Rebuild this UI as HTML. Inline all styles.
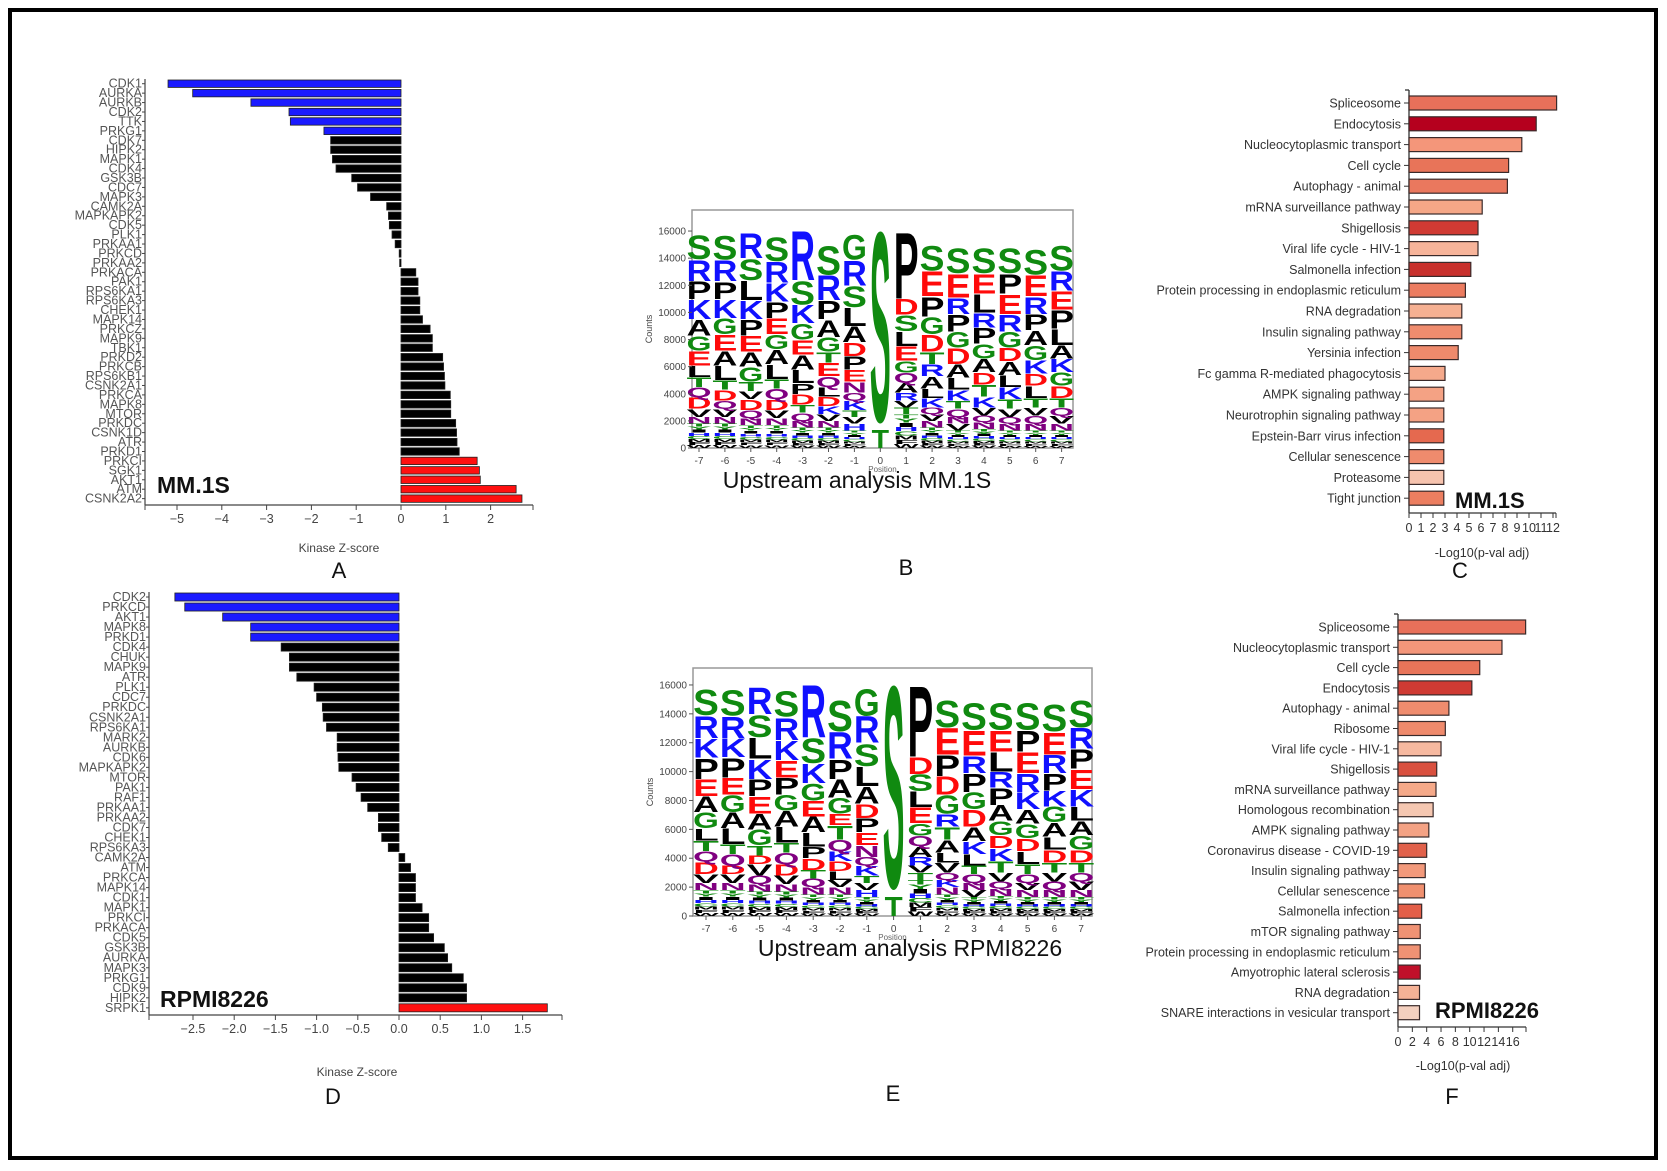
<!DOCTYPE html>
<html><head><meta charset="utf-8"><style>
html,body{margin:0;padding:0;background:#fff;}
svg{display:block;font-family:"Liberation Sans",Arial,sans-serif;}
</style></head><body>
<svg id="fig" width="1667" height="1171" viewBox="0 0 1667 1171" xmlns="http://www.w3.org/2000/svg">
<rect x="0" y="0" width="1667" height="1171" fill="#fff"/>
<rect x="10" y="10" width="1646" height="1148" fill="none" stroke="#000" stroke-width="4"/>
<g id="panels"></g>
</svg>
<script>
// ---------- DATA ----------
const kinA = ["CDK1","AURKA","AURKB","CDK2","TTK","PRKG1","CDK7","HIPK2","MAPK1","CDK4","GSK3B","CDC7","MAPK3","CAMK2A","MAPKAPK2","CDK5","PLK1","PRKAA1","PRKCD","PRKAA2","PRKACA","PAK1","RPS6KA1","RPS6KA3","CHEK1","MAPK14","PRKCZ","MAPK9","TBK1","PRKD2","PRKCB","RPS6KB1","CSNK2A1","PRKCA","MAPK8","MTOR","PRKDC","CSNK1D","ATR","PRKD1","PRKCI","SGK1","AKT1","ATM","CSNK2A2"];
const zA = [-5.2,-4.65,-3.35,-2.5,-2.47,-1.72,-1.57,-1.57,-1.53,-1.45,-1.1,-0.97,-0.68,-0.32,-0.28,-0.26,-0.2,-0.13,-0.04,-0.03,0.33,0.38,0.38,0.42,0.42,0.48,0.65,0.7,0.7,0.93,0.95,0.97,0.98,1.1,1.11,1.11,1.22,1.24,1.25,1.3,1.7,1.75,1.77,2.57,2.7];
const ticksA = [-5,-4,-3,-2,-1,0,1,2];
const kinD = ["CDK2","PRKCD","AKT1","MAPK8","PRKD1","CDK4","CHUK","MAPK9","ATR","PLK1","CDC7","PRKDC","CSNK2A1","RPS6KA1","MARK2","AURKB","CDK6","MAPKAPK2","MTOR","PAK1","RAF1","PRKAA1","PRKAA2","CDK7","CHEK1","RPS6KA3","CAMK2A","ATM","PRKCA","MAPK14","CDK1","MAPK1","PRKCI","PRKACA","CDK5","GSK3B","AURKA","MAPK3","PRKG1","CDK9","HIPK2","SRPK1"];
const zD = [-2.72,-2.6,-2.14,-1.8,-1.8,-1.43,-1.33,-1.33,-1.24,-1.03,-1.0,-0.93,-0.92,-0.88,-0.75,-0.75,-0.74,-0.73,-0.57,-0.52,-0.46,-0.38,-0.25,-0.25,-0.21,-0.13,0.07,0.14,0.2,0.2,0.2,0.28,0.36,0.36,0.42,0.55,0.59,0.64,0.78,0.82,0.82,1.8];
const ticksD = [-2.5,-2.0,-1.5,-1.0,-0.5,0.0,0.5,1.0,1.5];

const pathC = ["Spliceosome","Endocytosis","Nucleocytoplasmic transport","Cell cycle","Autophagy - animal","mRNA surveillance pathway","Shigellosis","Viral life cycle - HIV-1","Salmonella infection","Protein processing in endoplasmic reticulum","RNA degradation","Insulin signaling pathway","Yersinia infection","Fc gamma R-mediated phagocytosis","AMPK signaling pathway","Neurotrophin signaling pathway","Epstein-Barr virus infection","Cellular senescence","Proteasome","Tight junction"];
const valC = [12.3,10.6,9.4,8.3,8.2,6.1,5.75,5.75,5.15,4.7,4.4,4.4,4.1,3.0,2.9,2.9,2.9,2.9,2.9,2.9];
const colC = ["#e8705a","#b5001e","#f4967a","#e87459","#ea785e","#f5a787","#d03a33","#f7b49a","#c8302c","#ec7c60","#f5b092","#ef8c6e","#ee8a6c","#f5a98b","#f4a284","#f4a284","#e5694f","#ef8b6d","#f6c3ae","#ec7e60"];
const ticksC = [0,1,2,3,4,5,6,7,8,9,10,11,12];
const pathF = ["Spliceosome","Nucleocytoplasmic transport","Cell cycle","Endocytosis","Autophagy - animal","Ribosome","Viral life cycle - HIV-1","Shigellosis","mRNA surveillance pathway","Homologous recombination","AMPK signaling pathway","Coronavirus disease - COVID-19","Insulin signaling pathway","Cellular senescence","Salmonella infection","mTOR signaling pathway","Protein processing in endoplasmic reticulum","Amyotrophic lateral sclerosis","RNA degradation","SNARE interactions in vesicular transport"];
const valF = [17.8,14.5,11.4,10.3,7.1,6.6,6.0,5.4,5.3,4.9,4.3,4.0,3.8,3.7,3.3,3.1,3.1,3.1,3.0,3.0];
const colF = ["#e8705a","#f4967a","#e87459","#cf3a33","#ef8c6e","#ef8a6c","#f7b9a0","#d9503f","#f5a989","#f5c7b1","#f4a284","#e1614b","#f2997b","#f0906f","#e35e48","#f09274","#f09274","#c0102a","#f5b296","#f4d0bf"];
const ticksF = [0,2,4,6,8,10,12,14,16];

// logo data: per position, letters top-to-bottom and counts (thousands)
const logoPos = [-7,-6,-5,-4,-3,-2,-1,0,1,2,3,4,5,6,7];
const logoLettersB = ["SRPKAGELTQDVN","SRPKGEALTDQVN","RSLKPEAGTVDQN","SRKPEGALTQDVN","RSKGEALPDTQN","SRPAGTEQLDKVN","GRSLADPENQKTVH","S","PDSLEGQARVT","SEPGDTRALKQVN","SERPGDALKTQNV","SELRPGADTKVQN","SPERGDALKTVQN","SERPAGKDLTVQN","SREPLAKGDTQVN"];
const logoCountsB = [
[1.84,1.6,1.35,1.47,1.2,1.1,1.1,0.86,0.74,0.74,0.86,0.6,0.5],
[1.84,1.6,1.3,1.4,1.2,1.2,1.1,1.1,0.7,0.8,0.6,0.6,0.5],
[1.9,1.6,1.5,1.4,1.2,1.2,1.1,1.1,0.7,0.6,0.8,0.6,0.5],
[1.84,1.6,1.4,1.2,1.2,1.1,1.1,1.1,0.7,0.8,0.8,0.6,0.5],
[3.8,1.8,1.4,1.2,1.1,1.1,1.0,0.8,0.8,0.6,0.6,0.5],
[2.2,1.9,1.4,1.3,1.1,0.8,1.0,0.8,0.7,0.7,0.6,0.5,0.5],
[1.9,1.9,1.6,1.4,1.2,1.0,1.0,0.9,0.8,0.6,0.7,0.5,0.5,0.5],
[14.6],
[5.1,1.2,1.2,1.1,1.1,0.86,0.74,0.74,0.6,0.5,0.5],
[1.9,1.9,1.5,1.3,1.3,0.9,0.9,0.9,0.7,0.7,0.5,0.5,0.5],
[1.9,1.8,1.2,1.3,1.2,1.2,1.0,0.9,0.8,0.6,0.6,0.5,0.5],
[1.9,1.5,1.4,1.1,1.2,1.1,1.0,0.9,0.9,0.8,0.6,0.5,0.5],
[1.9,1.5,1.5,1.3,1.2,1.0,1.0,0.9,0.9,0.7,0.6,0.5,0.5],
[1.9,1.6,1.3,1.2,1.1,1.1,1.0,0.9,0.9,0.7,0.6,0.6,0.5],
[1.9,1.5,1.4,1.4,1.2,1.0,1.0,1.0,0.9,0.7,0.6,0.6,0.5]];
const logoRestB = [1.8,1.8,1.7,1.7,1.5,1.5,1.3,0,2.5,1.5,1.3,1.4,1.3,1.3,1.3];
const logoLettersE = ["SRKPEAGLTQDVN","SRKPEGALTQDVN","RSLKPEAGTDVQN","SRKEPGALTQDVN","RSKGEALPDTQN","SRPAGETQKDLVN","GRSLADPENQKTVH","S","PDSLEGQARVT","SEPDGRTALVQKN","SERPGDAKLTQNV","SELRPAGDKTVQN","SPERKAGDLTQVN","SERPKGALDTVQN","SRPEKLAGDTQVN"];
const logoCountsE = logoCountsB;
const logoRestE = logoRestB;
const logoBottomT = [0,0,0,0,0,0,0,1.4,0,0,0,0,0,0,0];

// ---------- helpers ----------
const NS="http://www.w3.org/2000/svg";
const root=document.getElementById('panels');
function mk(tag,attrs,parent,txt){const e=document.createElementNS(NS,tag);for(const k in attrs)e.setAttribute(k,attrs[k]);if(txt!==undefined)e.textContent=txt;(parent||root).appendChild(e);return e;}
function grp(name){const g=mk('g',{});return g;}

// ---------- kinase bar chart ----------
function kinasePanel(o){
  const g=grp(o.name);
  const xs=v=>o.zero+v*o.unit;
  const ys=i=>o.top+i*o.pitch;
  o.names.forEach((n,i)=>{
    const v=o.vals[i];
    const col=i<o.nBlue?'#1a1aff':(i>=o.names.length-o.nRed?'#ff1010':'#000');
    const r=mk('rect',{x:Math.min(xs(0),xs(v)),y:ys(i)+1,width:Math.max(1,Math.abs(xs(v)-xs(0))),height:o.pitch-2,fill:col,stroke:'#222','stroke-width':0.8},g);
    
    
    const t=mk('text',{x:o.axisX1-3,y:ys(i)+o.pitch/2+4,'text-anchor':'end','font-size':12.5,fill:'#555'},g,n);
    
    
    mk('line',{x1:o.axisX1-3,x2:o.axisX1,y1:ys(i)+o.pitch/2,y2:ys(i)+o.pitch/2,stroke:'#444','stroke-width':1},g);
  });
  mk('line',{x1:o.axisX1,x2:o.axisX1,y1:o.top,y2:o.axisY,stroke:'#444','stroke-width':1.2},g);
  mk('line',{x1:o.axisX1,x2:o.axisX2,y1:o.axisY,y2:o.axisY,stroke:'#444','stroke-width':1.2},g);
  mk('line',{x1:o.axisX1,x2:o.axisX1,y1:o.axisY,y2:o.axisY+5,stroke:'#444'},g);
  mk('line',{x1:o.axisX2,x2:o.axisX2,y1:o.axisY,y2:o.axisY+5,stroke:'#444'},g);
  o.ticks.forEach(t=>{
    mk('line',{x1:xs(t),x2:xs(t),y1:o.axisY,y2:o.axisY+5,stroke:'#444'},g);
    const l=mk('text',{x:xs(t),y:o.axisY+18,'text-anchor':'middle','font-size':12.5,fill:'#444'},g,(t<0?'\u2212':'')+Math.abs(t).toFixed(o.dec));
    
    
  });
  const xl=mk('text',{x:o.xlabX,y:o.xlabY,'text-anchor':'middle','font-size':12,fill:'#444'},g,'Kinase Z-score');
  
  const cl=mk('text',{x:o.cellX,y:o.cellY,'font-size':23,'font-weight':'bold',fill:'#111'},g,o.cell);
  
  const pl=mk('text',{x:o.pX,y:o.pY,'text-anchor':'middle','font-size':22,fill:'#111'},g,o.panel);
  
}
kinasePanel({name:'panel-a-kinase-chart',names:kinA,vals:zA,nBlue:6,nRed:5,zero:401,unit:44.8,top:79,pitch:9.43,axisY:505,axisX1:145,axisX2:533,ticks:ticksA,dec:0,xlabX:339,xlabY:552,cell:'MM.1S',cellX:157,cellY:493,panel:'A',pX:339,pY:578});
kinasePanel({name:'panel-d-kinase-chart',names:kinD,vals:zD,nBlue:5,nRed:1,zero:399,unit:82.4,top:592,pitch:10.02,axisY:1015,axisX1:149,axisX2:562,ticks:ticksD,dec:1,xlabX:357,xlabY:1076,cell:'RPMI8226',cellX:160,cellY:1007,panel:'D',pX:333,pY:1104});

// ---------- pathway bar chart ----------
function pathwayPanel(o){
  const g=grp(o.name);
  const xs=v=>o.x0+v*o.unit;
  const yc=i=>o.c0+i*o.pitch;
  mk('line',{x1:o.x0,x2:o.x0,y1:o.topY,y2:o.axisY,stroke:'#333','stroke-width':1.3},g);
  mk('line',{x1:o.x0-4,x2:o.x0,y1:o.topY,y2:o.topY,stroke:'#333','stroke-width':1.3},g);
  mk('line',{x1:o.x0,x2:o.axisEnd,y1:o.axisY,y2:o.axisY,stroke:'#333','stroke-width':1.3},g);
  o.names.forEach((n,i)=>{
    mk('line',{x1:o.x0-5,x2:o.x0,y1:yc(i),y2:yc(i),stroke:'#333'},g);
    const r=mk('rect',{x:xs(0),y:yc(i)-o.bh/2,width:xs(o.vals[i])-xs(0),height:o.bh,fill:o.cols[i],stroke:'#3a2a2a','stroke-width':1.2},g);
    
    
    const t=mk('text',{x:o.x0-8,y:yc(i)+4.5,'text-anchor':'end','font-size':12.5,fill:'#333'},g,n);
    
  });
  o.ticks.forEach(t=>{
    mk('line',{x1:xs(t),x2:xs(t),y1:o.axisY,y2:o.axisY+5,stroke:'#333'},g);
    const l=mk('text',{x:xs(t),y:o.axisY+19,'text-anchor':'middle','font-size':12.5,fill:'#333'},g,String(t));
    
  });
  mk('line',{x1:o.axisEnd,x2:o.axisEnd,y1:o.axisY,y2:o.axisY+5,stroke:'#333'},g);
  const xl=mk('text',{x:o.xlabX,y:o.xlabY,'text-anchor':'middle','font-size':12.5,fill:'#333'},g,'-Log10(p-val adj)');
  
  const cl=mk('text',{x:o.cellX,y:o.cellY,'font-size':22,'font-weight':'bold',fill:'#111'},g,o.cell);
  
  const pl=mk('text',{x:o.pX,y:o.pY,'text-anchor':'middle','font-size':22,fill:'#111'},g,o.panel);
  
}
pathwayPanel({name:'panel-c-pathway-chart',names:pathC,vals:valC,cols:colC,x0:1409,unit:12,c0:103,pitch:20.8,bh:14,topY:90,axisY:513,axisEnd:1556,ticks:ticksC,xlabX:1482,xlabY:557,cell:'MM.1S',cellX:1455,cellY:508,panel:'C',pX:1460,pY:578});
pathwayPanel({name:'panel-f-pathway-chart',names:pathF,vals:valF,cols:colF,x0:1398,unit:7.17,c0:627,pitch:20.3,bh:14,topY:614,axisY:1027,axisEnd:1526,ticks:ticksF,xlabX:1463,xlabY:1070,cell:'RPMI8226',cellX:1435,cellY:1018,panel:'F',pX:1452,pY:1104});

// ---------- sequence logo ----------
const colorOf={S:'#108a10',G:'#108a10',T:'#108a10',Y:'#108a10',C:'#108a10',R:'#1010ff',K:'#1010ff',H:'#1010ff',D:'#ff0a0a',E:'#ff0a0a',Q:'#800080',N:'#800080',P:'#000',A:'#000',L:'#000',V:'#000',I:'#000',M:'#000',F:'#000',W:'#000'};
function letter(g,ch,xl,w,yb,h){
  if(!(h>=0.5)||!isFinite(yb))return;
  const t=mk('text',{x:0,y:0,'font-size':100,'font-weight':'bold',fill:colorOf[ch]||'#000',textLength:w,lengthAdjust:'spacingAndGlyphs',transform:`translate(${xl},${yb}) scale(1,${h/73})`},g,ch);
  
  
}
function logoPanel(o){
  const g=grp(o.name);
  const ys=k=>o.bottom-k*o.ppk;
  const xc=i=>o.c0+i*o.pitch;
  const w=o.pitch*0.96;
  mk('rect',{x:o.left,y:o.top,width:o.right-o.left,height:o.bottom-o.top,fill:'#fff',stroke:'#999','stroke-width':1.5},g);
  o.pos.forEach((p,i)=>{
    let base=0;
    const xl=xc(i)-w/2;
    const rest=o.rest[i];
    const small="WFMCHIYT";
    for(let j=0;j<small.length&&rest>0;j++){const hk=rest/small.length;letter(g,small[j],xl,w,ys(base),hk*o.ppk);base+=hk;}
    if(o.botT[i]>0){letter(g,'T',xl+w*0.15,w*0.7,ys(base),o.botT[i]*o.ppk);base+=o.botT[i]+0.6;}
    const L=o.letters[i],C=o.counts[i];
    const n=Math.min(L.length,C.length);
    for(let j=n-1;j>=0;j--){
      const isBig=(n===1);
      letter(g,L[j],isBig?xl+w*0.08:xl,isBig?w*0.84:w,ys(base),C[j]*o.ppk);
      base+=C[j];
    }
    mk('line',{x1:xc(i),x2:xc(i),y1:o.bottom,y2:o.bottom+4,stroke:'#555'},g);
    const tl=mk('text',{x:xc(i),y:o.bottom+16,'text-anchor':'middle','font-size':10,fill:'#444'},g,String(p));
    
  });
  for(let v=0;v<=16;v+=2){
    mk('line',{x1:o.left-4,x2:o.left,y1:ys(v),y2:ys(v),stroke:'#555'},g);
    const tl=mk('text',{x:o.left-6,y:ys(v)+3.5,'text-anchor':'end','font-size':10,fill:'#444'},g,String(v*1000));
    
  }
  const yl=mk('text',{x:0,y:0,'text-anchor':'middle','font-size':9,fill:'#444',transform:`translate(${o.left-40},${(o.top+o.bottom)/2}) rotate(-90)`},g,'Counts');
  
  const xl2=mk('text',{x:(o.left+o.right)/2,y:o.bottom+24,'text-anchor':'middle','font-size':8,fill:'#666'},g,'Position');
  
  const ti=mk('text',{x:o.tX,y:o.tY,'text-anchor':'middle','font-size':23,fill:'#111'},g,o.title);
  
  const pl=mk('text',{x:o.pX,y:o.pY,'text-anchor':'middle','font-size':22,fill:'#111'},g,o.panel);
  
}
logoPanel({name:'panel-b-sequence-logo',pos:logoPos,letters:logoLettersB,counts:logoCountsB,rest:logoRestB,botT:logoBottomT,left:692,right:1073,top:210,bottom:448,ppk:13.56,c0:699,pitch:25.9,title:'Upstream analysis MM.1S',tX:857,tY:488,panel:'B',pX:906,pY:575});
logoPanel({name:'panel-e-sequence-logo',pos:logoPos,letters:logoLettersE,counts:logoCountsE,rest:logoRestE,botT:logoBottomT,left:693,right:1092,top:668,bottom:916,ppk:14.44,c0:706,pitch:26.8,title:'Upstream analysis RPMI8226',tX:910,tY:956,panel:'E',pX:893,pY:1101});
</script>
</body></html>
